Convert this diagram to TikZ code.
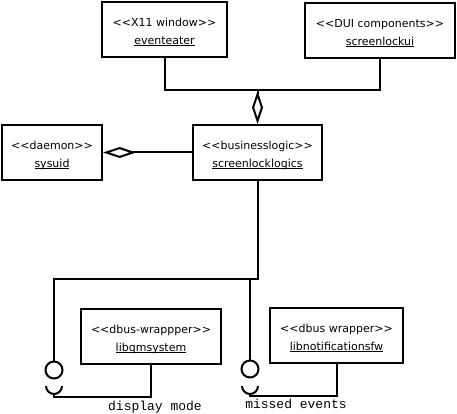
\documentclass[tikz,border=0pt]{standalone}
\usepackage{fontspec}
\setmainfont{DejaVu Sans}
\setmonofont{Liberation Mono}
\usetikzlibrary{arrows.meta}
\tikzstyle{comp} = [draw,line width=2pt,align=center,inner sep=0pt,font=\fontsize{11}{18}\selectfont]
\tikzstyle{wire} = [line width=2pt]
\tikzstyle{aggr} = [line width=2pt,{Diamond[open,length=33pt,width=11pt]}-]
\tikzstyle{ball} = [draw,circle,line width=2pt,minimum size=17pt,inner sep=0pt]
\tikzstyle{lbl} = [font=\ttfamily\fontsize{13}{13}\selectfont,inner sep=0pt]
\newcommand{\inst}[1]{\underline{\smash{#1}}}
\newcommand{\stereo}[2]{\rule{0pt}{13.5pt}<{}<#1>{}>\\\inst{#2}}

\begin{document}
\begin{tikzpicture}[x=1pt,y=-1pt]
\useasboundingbox (0,0) rectangle (457,414);

% components
\node[comp,minimum width=125pt,minimum height=55pt] (eventeater) at (164.5,29.5) {\stereo{X11 window}{eventeater}};
\node[comp,minimum width=150pt,minimum height=55pt] (screenlockui) at (380,30.5) {\stereo{DUI components}{screenlockui}};
\node[comp,minimum width=129pt,minimum height=55pt] (logics) at (257.5,152.5) {\stereo{businesslogic}{screenlocklogics}};
\node[comp,minimum width=100pt,minimum height=55pt] (sysuid) at (52,152.5) {\stereo{daemon}{sysuid}};
\node[comp,minimum width=140pt,minimum height=55pt] (qmsystem) at (151,336.5) {\stereo{dbus-wrappper}{libqmsystem}};
\node[comp,minimum width=133pt,minimum height=55pt] (notifications) at (336.5,335.5) {\stereo{dbus wrapper}{libnotificationsfw}};

% aggregation
\coordinate (top) at (257.5,90);
\draw[wire] (eventeater.south) |- (top) -| (screenlockui.south);
\draw[aggr] (logics.north) -- (top);
\draw[aggr] (sysuid.east) -- (logics.west);

% interfaces
\node[ball] (ballA) at (54,370) {};
\node[ball] (ballB) at (250,369) {};
\coordinate (split) at (257.5,279);
\draw[wire] (logics.south) -- (split) -| (ballA.north);
\draw[wire] (ballB.north |- split) -- (ballB.north);

\coordinate (sockA) at (54,394);
\coordinate (sockB) at (250,394);
\foreach \s in {sockA,sockB}
{
\draw[wire] (\s) ++(-8,-8) arc[start angle=180,end angle=360,radius=8pt];
}
\draw[wire] (sockA) -- ++(0,3) -| (qmsystem.south);
\draw[wire] (sockB) -- ++(0,2) -| (notifications.south);

\node[lbl] (displaymode) at (155,407) {display mode};
\node[lbl] (missedevents) at (296,404) {missed events};

\end{tikzpicture}
\end{document}
